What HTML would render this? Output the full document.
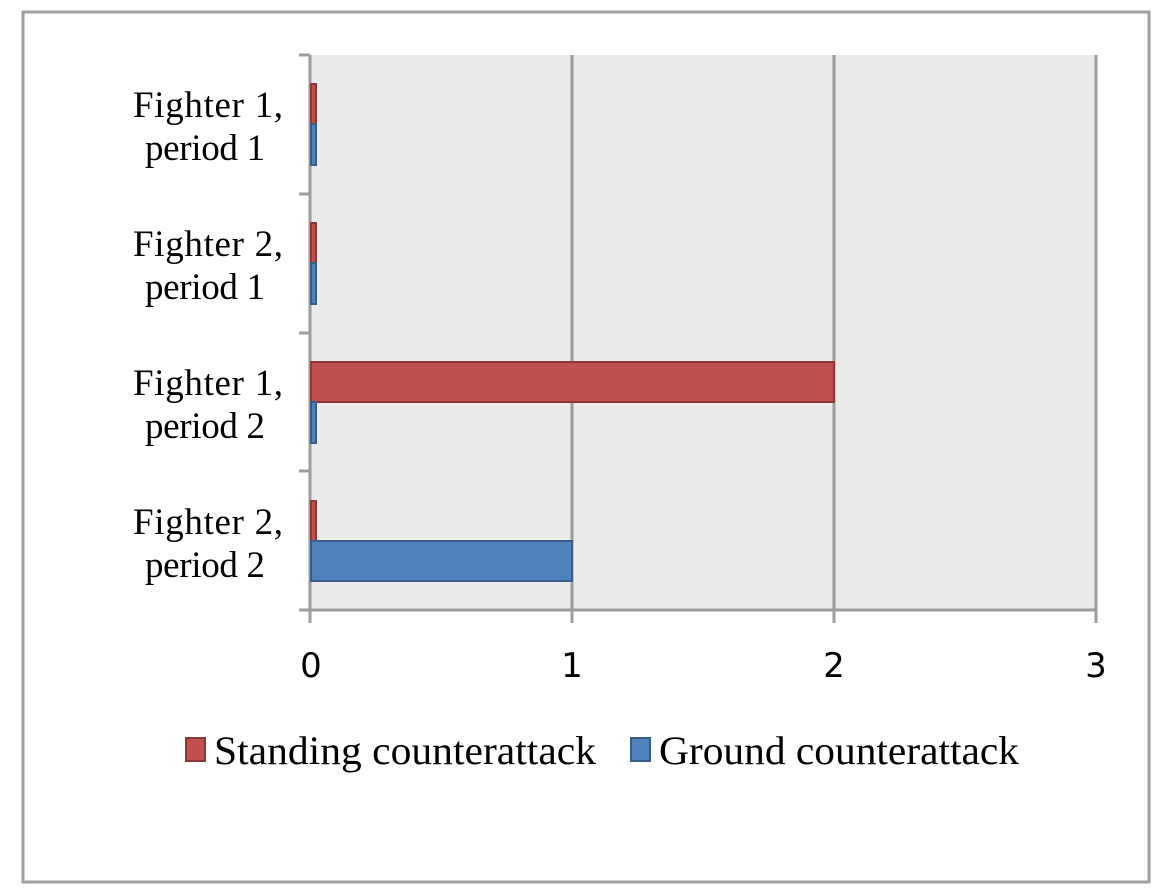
<!DOCTYPE html>
<html><head><style>body{margin:0;background:#fff}svg{display:block}</style></head><body>
<svg width="1171" height="896" xmlns="http://www.w3.org/2000/svg" font-family="Liberation Serif, serif">
<rect x="23" y="12" width="1126" height="870" fill="#fff" stroke="#a0a0a0" stroke-width="3"/>
<rect x="311" y="55" width="785" height="555" fill="#ebebeb"/>
<g stroke="#9c9c9c" stroke-width="3">
<line x1="572" y1="55" x2="572" y2="623"/><line x1="834" y1="55" x2="834" y2="623"/><line x1="1096" y1="55" x2="1096" y2="623"/>
<line x1="310" y1="55" x2="310" y2="623"/>
<line x1="299" y1="610" x2="1096" y2="610"/>
<line x1="299" y1="55" x2="310" y2="55"/><line x1="299" y1="194" x2="310" y2="194"/><line x1="299" y1="333" x2="310" y2="333"/><line x1="299" y1="471" x2="310" y2="471"/>
</g>
<g fill="#c0504d" stroke="#8c3836" stroke-width="2">
<rect x="311" y="84" width="5" height="40"/><rect x="311" y="223" width="5" height="40"/><rect x="311" y="362" width="523" height="40"/><rect x="311" y="501" width="5" height="40"/>
</g>
<g fill="#4f81bd" stroke="#385d8a" stroke-width="2">
<rect x="311" y="124" width="5" height="41"/><rect x="311" y="263" width="5" height="41"/><rect x="311" y="402" width="5" height="41"/><rect x="311" y="541" width="261" height="40"/>
</g>
<g font-size="37" fill="#000" lengthAdjust="spacingAndGlyphs">
<text x="133" y="117" textLength="150">Fighter 1,</text><text x="145" y="160" textLength="120">period 1</text>
<text x="133" y="256" textLength="150">Fighter 2,</text><text x="145" y="299" textLength="120">period 1</text>
<text x="133" y="395" textLength="150">Fighter 1,</text><text x="145" y="438" textLength="120">period 2</text>
<text x="133" y="534" textLength="150">Fighter 2,</text><text x="145" y="577" textLength="120">period 2</text>
</g>
<g font-size="34" text-anchor="middle" font-family="DejaVu Sans, sans-serif">
<text x="311" y="677">0</text><text x="572" y="677">1</text><text x="834" y="677">2</text><text x="1096" y="677">3</text>
</g>
<rect x="186" y="738" width="19" height="23" fill="#c0504d" stroke="#8c3836" stroke-width="2"/>
<rect x="631" y="738" width="19" height="23" fill="#4f81bd" stroke="#385d8a" stroke-width="2"/>
<g font-size="40">
<text x="214" y="764" textLength="382" lengthAdjust="spacingAndGlyphs">Standing counterattack</text>
<text x="659" y="764" textLength="360" lengthAdjust="spacingAndGlyphs">Ground counterattack</text>
</g>
</svg>
</body></html>
